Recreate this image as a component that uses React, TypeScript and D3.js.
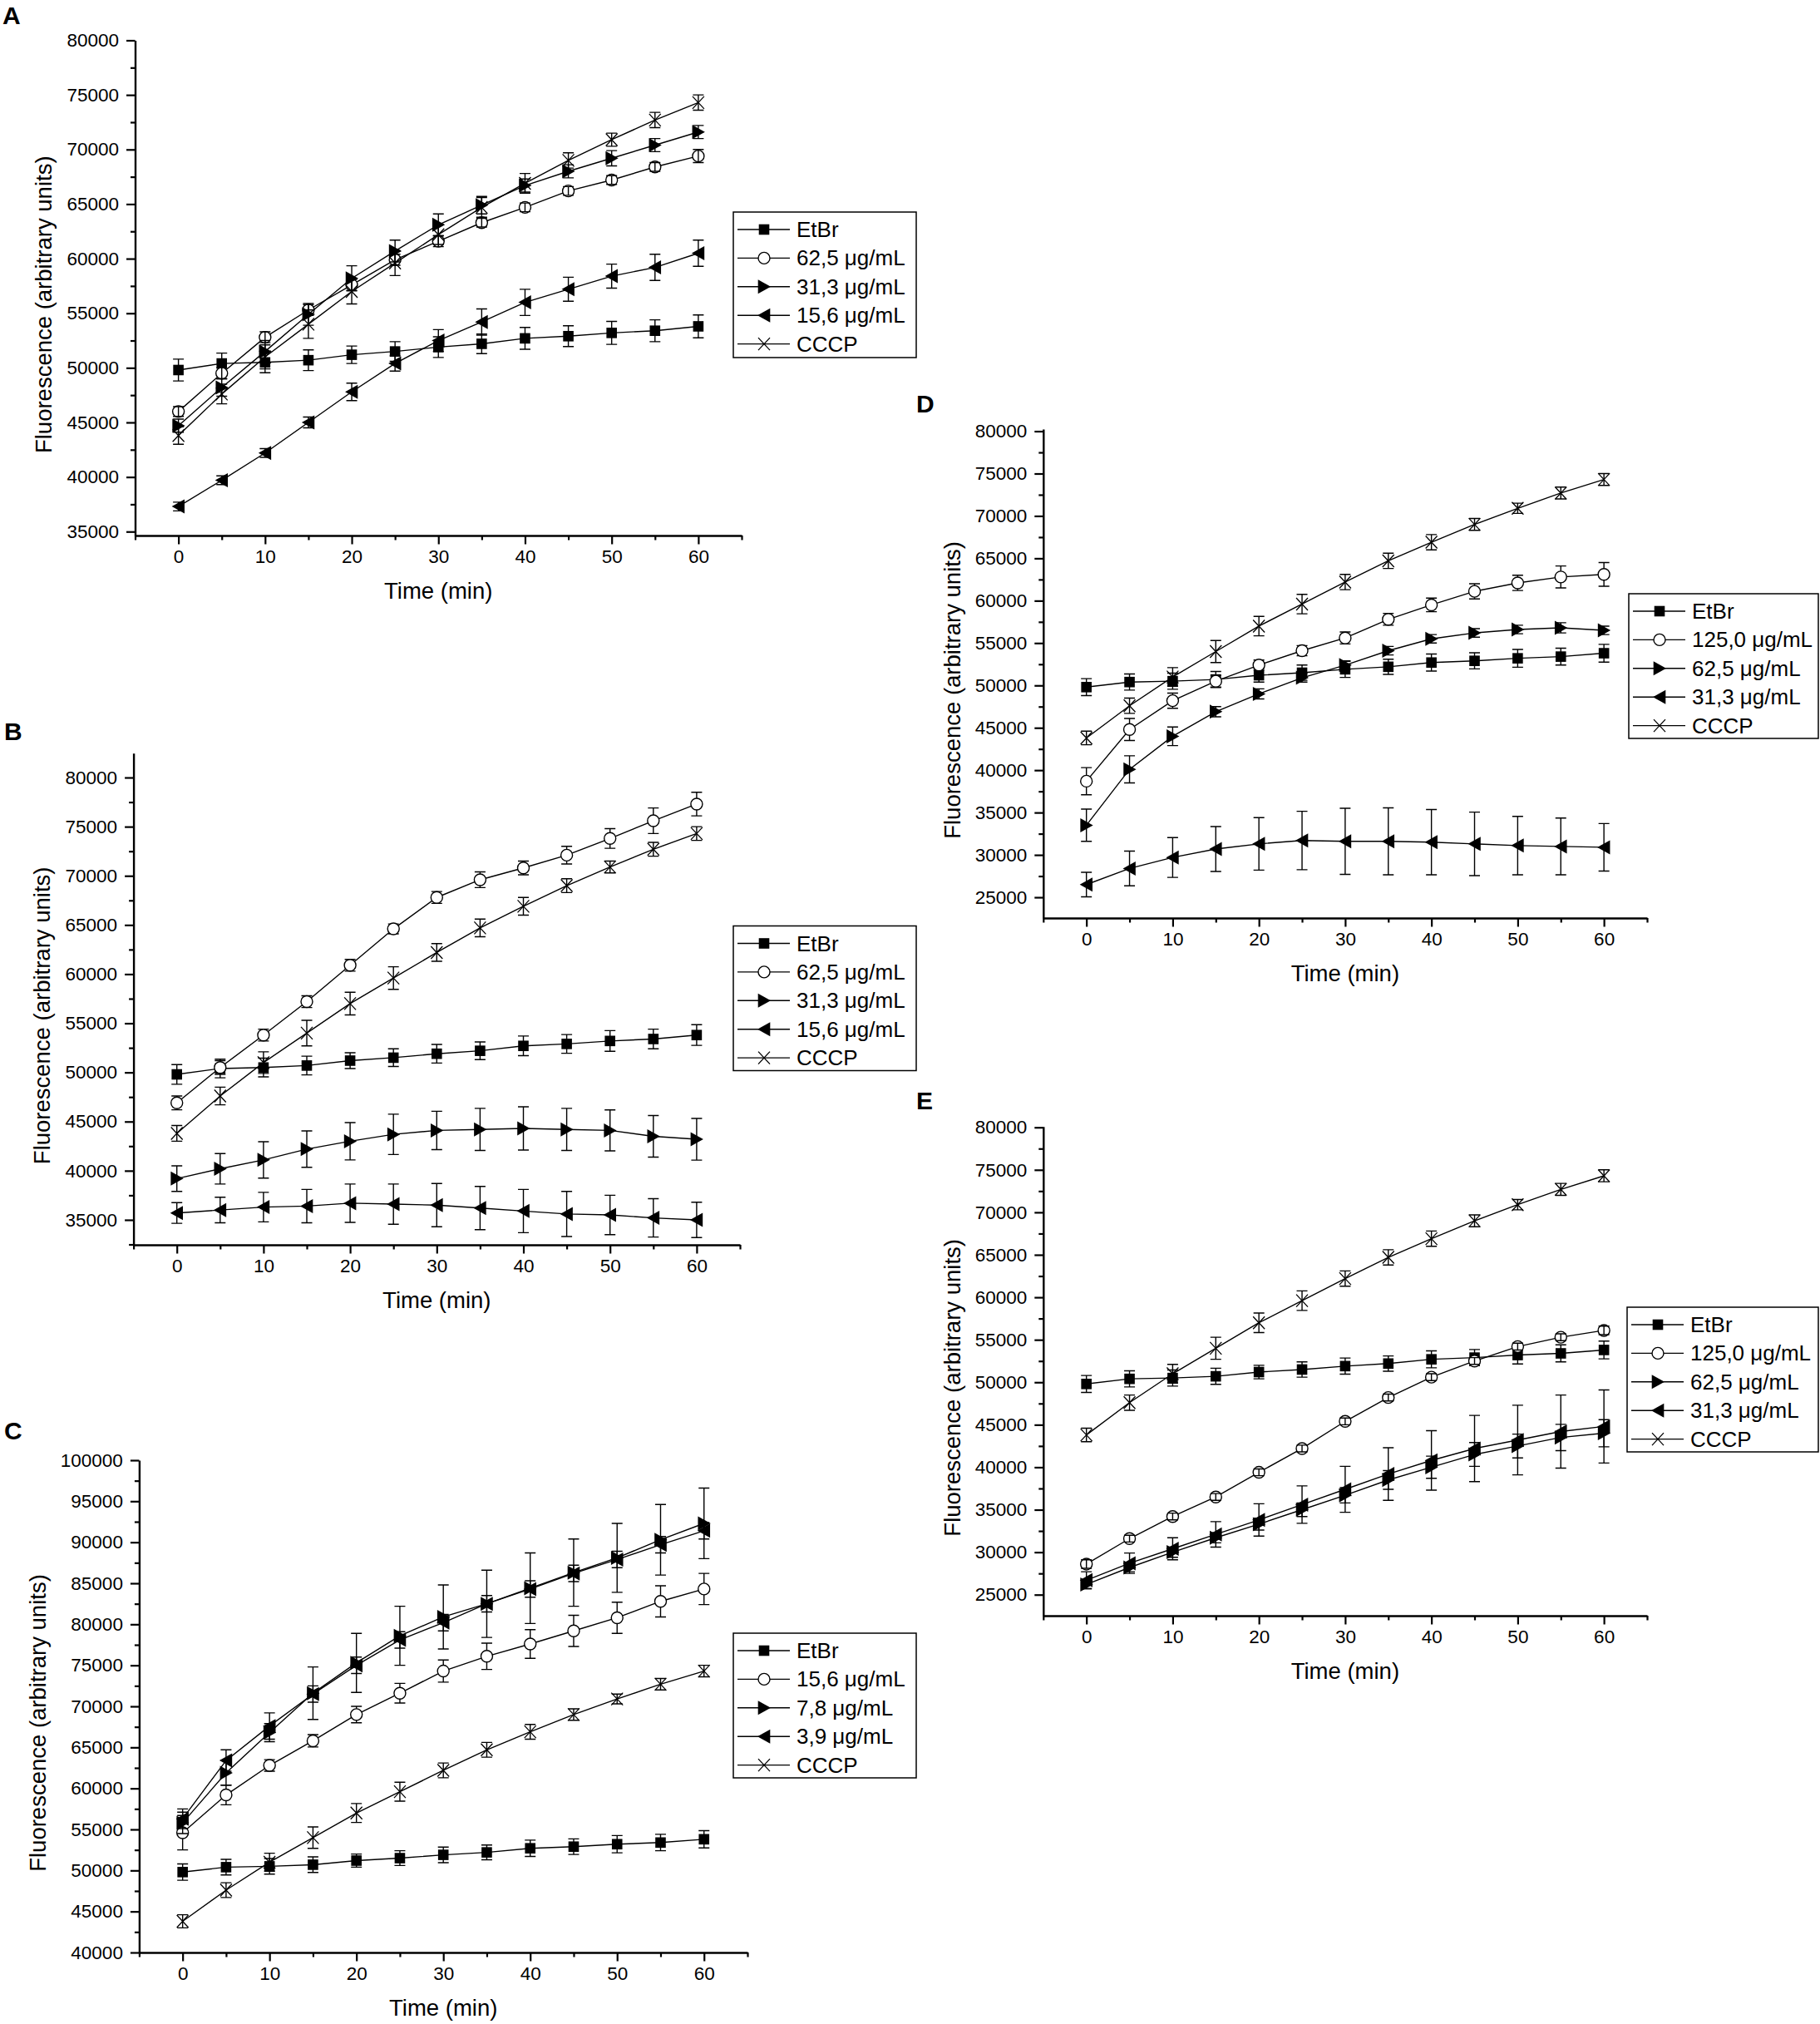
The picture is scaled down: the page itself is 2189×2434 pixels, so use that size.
import React, { useRef, useEffect } from "react";
import * as d3 from "d3";

const W = 2189;
const H = 2434;
const FONT = "'Liberation Sans', Arial, Helvetica, sans-serif";

// sampling times (min)
const time = [0, 5, 10, 15, 20, 25, 30, 35, 40, 45, 50, 55, 60];
const xMajor = [0, 10, 20, 30, 40, 50, 60];
const xMinor = [-5, 5, 15, 25, 35, 45, 55, 65];

// controls, shared by every panel
const etbr = [49800, 50400, 50500, 50700, 51200, 51500, 51900, 52200, 52700, 52900, 53200, 53400, 53800];
const etbrErr = [1000, 950, 950, 950, 800, 900, 950, 900, 1000, 950, 1050, 1000, 1050];
const cccp = [43800, 47600, 51000, 54000, 57000, 59600, 62200, 64700, 66900, 69000, 70900, 72700, 74300];
const cccpErr = [800, 900, 1100, 1300, 1150, 1150, 900, 900, 900, 700, 600, 700, 700];

// panel A
const a625 = [46000, 49500, 52800, 55300, 57600, 59900, 61600, 63300, 64700, 66200, 67200, 68400, 69400];
const a625Err = [450, 500, 500, 500, 500, 500, 500, 400, 400, 400, 400, 400, 600];
const a313 = [44700, 48200, 51500, 54900, 58200, 60700, 63100, 64900, 66700, 68000, 69200, 70400, 71600];
const a313Err = [600, 800, 1000, 1000, 1150, 1000, 1000, 800, 600, 600, 700, 600, 600];
const a156 = [37300, 39700, 42200, 45000, 47800, 50400, 52500, 54200, 56000, 57200, 58400, 59200, 60500];
const a156Err = [400, 400, 400, 500, 800, 700, 1000, 1200, 1200, 1100, 1100, 1200, 1200];

// panel B
const b625 = [46900, 50500, 53800, 57200, 60900, 64600, 67800, 69600, 70800, 72100, 73800, 75600, 77300];
const b625Err = [700, 700, 600, 600, 600, 500, 600, 800, 700, 900, 1000, 1300, 1200];
const b313 = [39200, 40200, 41100, 42200, 43000, 43700, 44100, 44200, 44300, 44200, 44100, 43500, 43200];
const b313Err = [1300, 1550, 1850, 1850, 1900, 2050, 1950, 2140, 2200, 2140, 2080, 2120, 2120];
const b156 = [35700, 36000, 36300, 36400, 36700, 36600, 36500, 36200, 35900, 35600, 35500, 35200, 35000];
const b156Err = [1050, 1300, 1500, 1700, 1950, 2050, 2200, 2200, 2200, 2300, 2000, 1950, 1800];

// panel C
const c156 = [54600, 59200, 62800, 65800, 69000, 71600, 74300, 76100, 77600, 79200, 80800, 82800, 84300];
const c156Err = [2100, 1200, 700, 750, 1000, 1200, 1350, 1600, 1750, 1900, 1900, 1900, 1900];
const c78 = [55800, 61900, 66800, 71600, 75300, 78600, 80900, 82500, 84400, 86300, 88100, 90300, 92300];
const c78Err = [1300, 1500, 1100, 3200, 3600, 3600, 3900, 4100, 4300, 4100, 4200, 4300, 4300];
const c39 = [56300, 63400, 67600, 71500, 75000, 78100, 80200, 82500, 84300, 86200, 87900, 89700, 91400];
const c39Err = [1200, 1300, 1600, 1000, 1000, 1000, 1000, 1000, 1000, 1000, 1000, 1000, 1000];

// panel D
const d1250 = [38700, 44800, 48200, 50500, 52400, 54100, 55600, 57800, 59500, 61100, 62100, 62800, 63100];
const d1250Err = [1600, 1300, 900, 700, 600, 600, 700, 700, 800, 900, 900, 1300, 1400];
const d625 = [33500, 40100, 44000, 46900, 49000, 50900, 52400, 54100, 55500, 56200, 56600, 56800, 56500];
const d625Err = [1900, 1600, 1100, 600, 600, 500, 500, 500, 500, 500, 500, 600, 500];
const d313 = [26500, 28400, 29700, 30700, 31300, 31700, 31600, 31600, 31500, 31300, 31100, 31000, 30900];
const d313Err = [1450, 2050, 2350, 2650, 3100, 3450, 3900, 3950, 3850, 3750, 3450, 3350, 2800];

// panel E
const e1250 = [28600, 31600, 34200, 36500, 39400, 42200, 45400, 48200, 50600, 52500, 54200, 55300, 56100];
const e1250Err = [500, 400, 400, 400, 400, 400, 400, 400, 400, 400, 400, 400, 500];
const e625 = [26200, 28200, 30000, 31700, 33300, 35000, 36700, 38500, 40000, 41500, 42500, 43500, 44000];
const e625Err = [500, 500, 600, 600, 700, 800, 900, 1100, 1300, 1400, 1400, 1550, 1600];
const e313 = [26700, 28700, 30400, 32100, 33800, 35600, 37400, 39200, 40800, 42200, 43200, 44200, 44800];
const e313Err = [1000, 1200, 1300, 1500, 1900, 2200, 2700, 3100, 3500, 3900, 4100, 4300, 4300];

// y tick labels
const yTicks80 = [35000, 40000, 45000, 50000, 55000, 60000, 65000, 70000, 75000, 80000];
const yTicksC = [40000, 45000, 50000, 55000, 60000, 65000, 70000, 75000, 80000, 85000, 90000, 95000, 100000];
const yTicksDE = [25000, 30000, 35000, 40000, 45000, 50000, 55000, 60000, 65000, 70000, 75000, 80000];

type Shape = "square" | "circle" | "right" | "left" | "cross";
type Series = { label: string; shape: Shape; values: number[]; err: number[] };

const ser = (label: string, shape: Shape, values: number[], err: number[]): Series => ({ label, shape, values, err });

const panels = [
  {
    key: "A", lx: 3, ly: 29.3, left: 162.5, right: 892, top: 48.5, bottom: 644, yDomain: [34640, 80000],
    yTicks: yTicks80, titleX: 52, barsOnTop: true, legend: { x: 882, y: 255, w: 220, h: 175 },
    series: [ser("EtBr", "square", etbr, etbrErr), ser("62,5 μg/mL", "circle", a625, a625Err),
      ser("31,3 μg/mL", "right", a313, a313Err), ser("15,6 μg/mL", "left", a156, a156Err), ser("CCCP", "cross", cccp, cccpErr)],
  },
  {
    key: "B", lx: 5, ly: 890, left: 160.6, right: 890, top: 905.7, bottom: 1497, yDomain: [32460, 82480],
    yTicks: yTicks80, titleX: 50, barsOnTop: false, legend: { x: 882, y: 1113.5, w: 220, h: 174 },
    series: [ser("EtBr", "square", etbr, etbrErr), ser("62,5 μg/mL", "circle", b625, b625Err),
      ser("31,3 μg/mL", "right", b313, b313Err), ser("15,6 μg/mL", "left", b156, b156Err), ser("CCCP", "cross", cccp, cccpErr)],
  },
  {
    key: "C", lx: 5, ly: 1731, left: 167.4, right: 899, top: 1756, bottom: 2348, yDomain: [40000, 100000],
    yTicks: yTicksC, titleX: 45, barsOnTop: false, legend: { x: 882, y: 1964, w: 220, h: 174 },
    series: [ser("EtBr", "square", etbr, etbrErr), ser("15,6 μg/mL", "circle", c156, c156Err),
      ser("7,8 μg/mL", "right", c78, c78Err), ser("3,9 μg/mL", "left", c39, c39Err), ser("CCCP", "cross", cccp, cccpErr)],
  },
  {
    key: "D", lx: 1102, ly: 496, left: 1254.8, right: 1981, top: 516, bottom: 1104, yDomain: [22550, 80250],
    yTicks: yTicksDE, titleX: 1145, barsOnTop: false, legend: { x: 1959, y: 714, w: 228, h: 174 },
    series: [ser("EtBr", "square", etbr, etbrErr), ser("125,0 μg/mL", "circle", d1250, d1250Err),
      ser("62,5 μg/mL", "right", d625, d625Err), ser("31,3 μg/mL", "left", d313, d313Err), ser("CCCP", "cross", cccp, cccpErr)],
  },
  {
    key: "E", lx: 1102, ly: 1334, left: 1254.8, right: 1981, top: 1354.7, bottom: 1943, yDomain: [22525, 80100],
    yTicks: yTicksDE, titleX: 1145, barsOnTop: true, legend: { x: 1957, y: 1572, w: 230, h: 174 },
    series: [ser("EtBr", "square", etbr, etbrErr), ser("125,0 μg/mL", "circle", e1250, e1250Err),
      ser("62,5 μg/mL", "right", e625, e625Err), ser("31,3 μg/mL", "left", e313, e313Err), ser("CCCP", "cross", cccp, cccpErr)],
  },
];

function drawMarker(g: any, shape: Shape, cx: number, cy: number) {
  if (shape === "square") {
    g.append("rect").attr("x", cx - 6.3).attr("y", cy - 6.3).attr("width", 12.6).attr("height", 12.6).attr("fill", "#000");
  } else if (shape === "circle") {
    g.append("circle").attr("cx", cx).attr("cy", cy).attr("r", 7).attr("fill", "#fff").attr("stroke", "#000").attr("stroke-width", 1.4);
  } else if (shape === "right") {
    g.append("path").attr("d", `M${cx - 7.3},${cy - 8.5}L${cx + 8},${cy}L${cx - 7.3},${cy + 8.5}Z`).attr("fill", "#000");
  } else if (shape === "left") {
    g.append("path").attr("d", `M${cx + 7.3},${cy - 8.5}L${cx - 8},${cy}L${cx + 7.3},${cy + 8.5}Z`).attr("fill", "#000");
  } else {
    g.append("path").attr("d", `M${cx - 7},${cy - 7.5}L${cx + 7},${cy + 7.5}M${cx - 7},${cy + 7.5}L${cx + 7},${cy - 7.5}`)
      .attr("stroke", "#000").attr("stroke-width", 1.3).attr("fill", "none");
  }
}

export default function App() {
  const ref = useRef<SVGSVGElement | null>(null);

  useEffect(() => {
    const svg = d3.select(ref.current);
    svg.selectAll("*").remove();
    svg.append("rect").attr("width", W).attr("height", H).attr("fill", "#fff");

    panels.forEach((p) => {
      const g = svg.append("g");
      const x = d3.scaleLinear().domain([-5, 65]).range([p.left, p.right]);
      const y = d3.scaleLinear().domain(p.yDomain).range([p.bottom, p.top]);

      const styleAxis = (a: any) => {
        a.attr("font-family", FONT).attr("font-size", 22.5);
        a.select(".domain").attr("stroke-width", 2.4);
        a.selectAll(".tick line").attr("stroke-width", 2.2);
        a.selectAll(".tick text").attr("fill", "#000");
      };

      // minor ticks
      const yMinor = d3.range(Math.ceil(p.yDomain[0] / 2500) * 2500, p.yDomain[1], 2500).filter((v) => v % 5000 !== 0);
      g.append("g").attr("transform", `translate(${p.left},0)`)
        .call(d3.axisLeft(y).tickValues(yMinor).tickSize(5.5).tickFormat(() => "").tickSizeOuter(0))
        .call((a: any) => { a.select(".domain").remove(); a.selectAll("line").attr("stroke-width", 2.2); });
      g.append("g").attr("transform", `translate(0,${p.bottom})`)
        .call(d3.axisBottom(x).tickValues(xMinor).tickSize(5.5).tickFormat(() => "").tickSizeOuter(0))
        .call((a: any) => { a.select(".domain").remove(); a.selectAll("line").attr("stroke-width", 2.2); });

      // major axes
      g.append("g").attr("transform", `translate(${p.left},0)`)
        .call(d3.axisLeft(y).tickValues(p.yTicks).tickSize(10.5).tickPadding(9).tickSizeOuter(0).tickFormat(d3.format("d")))
        .call(styleAxis);
      g.append("g").attr("transform", `translate(0,${p.bottom})`)
        .call(d3.axisBottom(x).tickValues(xMajor).tickSize(10.5).tickPadding(7).tickSizeOuter(0).tickFormat(d3.format("d")))
        .call(styleAxis);

      // titles
      g.append("text").attr("x", p.lx).attr("y", p.ly).attr("font-family", FONT).attr("font-weight", "bold")
        .attr("font-size", 30).text(p.key);
      g.append("text").attr("transform", `translate(${p.titleX},${(p.top + p.bottom) / 2 + 20}) rotate(-90)`)
        .attr("text-anchor", "middle").attr("dominant-baseline", "central")
        .attr("font-family", FONT).attr("font-size", 27.5).text("Fluorescence (arbitrary units)");
      g.append("text").attr("x", (p.left + p.right) / 2).attr("y", p.bottom + 66)
        .attr("text-anchor", "middle").attr("dominant-baseline", "central")
        .attr("font-family", FONT).attr("font-size", 27.5).text("Time (min)");

      // series
      const line = d3.line<number>().x((_, i) => x(time[i])).y((d) => y(d));
      p.series.forEach((s) => {
        const sg = g.append("g");
        sg.append("path").attr("d", line(s.values)).attr("fill", "none").attr("stroke", "#000").attr("stroke-width", 1.4);
        const bars = () => {
          s.values.forEach((v, i) => {
            const cx = x(time[i]);
            const y1 = y(v + s.err[i]);
            const y2 = y(v - s.err[i]);
            sg.append("path")
              .attr("d", `M${cx},${y1}V${y2}M${cx - 6.5},${y1}H${cx + 6.5}M${cx - 6.5},${y2}H${cx + 6.5}`)
              .attr("stroke", "#000").attr("stroke-width", 1.4).attr("fill", "none");
          });
        };
        if (!p.barsOnTop) bars();
        s.values.forEach((v, i) => drawMarker(sg, s.shape, x(time[i]), y(v)));
        if (p.barsOnTop) bars();
      });

      // legend
      const L = p.legend;
      const lg = g.append("g");
      lg.append("rect").attr("x", L.x).attr("y", L.y).attr("width", L.w).attr("height", L.h)
        .attr("fill", "#fff").attr("stroke", "#000").attr("stroke-width", 1.5);
      p.series.forEach((s, i) => {
        const cy = L.y + 21 + i * 34.4;
        lg.append("line").attr("x1", L.x + 5).attr("x2", L.x + 68).attr("y1", cy).attr("y2", cy)
          .attr("stroke", "#000").attr("stroke-width", 1.4);
        drawMarker(lg, s.shape, L.x + 37, cy);
        lg.append("text").attr("x", L.x + 76).attr("y", cy).attr("dominant-baseline", "central")
          .attr("font-family", FONT).attr("font-size", 26).text(s.label);
      });
    });
  }, []);

  return (
    <svg ref={ref} width={W} height={H} style={{ position: "absolute", left: 0, top: 0, display: "block" }} />
  );
}
